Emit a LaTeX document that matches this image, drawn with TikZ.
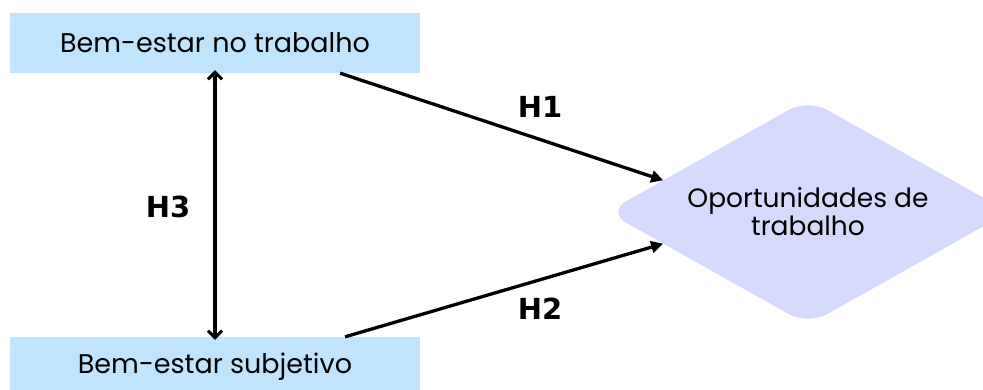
\documentclass[tikz,border=0pt]{standalone}
\usepackage{fontspec}
\setmainfont{Poppins}
\newfontfamily\labelfont{DejaVu Sans}
\usetikzlibrary{arrows.meta,shapes.geometric,calc}
\definecolor{boxblue}{RGB}{192,228,253}
\definecolor{lavender}{RGB}{213,217,252}
\tikzset{
  factor/.style={fill=boxblue, draw=none, minimum width=410pt, minimum height=60pt,
    inner sep=0pt, font=\fontsize{27}{32}\selectfont},
  outcome/.style={diamond, shape aspect=1.78, fill=lavender, draw=none,
    minimum width=402pt, minimum height=226pt, inner sep=0pt, rounded corners=22pt,
    align=center, font=\fontsize{26.5}{28}\selectfont},
  link/.style={line width=3.3pt, -{Triangle[length=12pt,width=12pt]}},
  corr/.style={line width=3.3pt, {Straight Barb[length=7pt,width=14pt,line width=3pt]}-{Straight Barb[length=7pt,width=14pt,line width=3pt]}},
  hyp/.style={font=\labelfont\bfseries\fontsize{29}{34}\selectfont}
}
\begin{document}
\begin{tikzpicture}[x=1pt,y=-1pt]
  \useasboundingbox (0,0) rectangle (983,389);
  \clip (0,0) rectangle (983,389);
  % the two well-being constructs
  \node[factor] (work) at (215,43) {Bem-estar no trabalho};
  \node[factor] (subj) at (215,367) {Bem-estar subjetivo};
  % the outcome
  \node[outcome] (opp) at (808,212) {Oportunidades de\\trabalho};
  % arrow ends on the outcome's left edges
  \coordinate (h1end) at ($(opp.west)!0.28!(opp.north)$);
  \coordinate (h2end) at ($(opp.west)!0.28!(opp.south)$);
  \coordinate (h1start) at ($(work.south west)!0.805!(work.south east)$);
  \coordinate (h2start) at ($(subj.north west)!0.817!(subj.north east)$);
  \draw[link] (h1start) -- (h1end);
  \draw[link] (h2start) -- (h2end);
  \draw[corr] ([yshift=3pt]work.south) -- ([yshift=-3pt]subj.north);
  % hypothesis labels
  \node[hyp] (lh1) at (540,107) {H1};
  \node[hyp] (lh2) at (540,309) {H2};
  \node[hyp] (lh3) at (168,207) {H3};
\end{tikzpicture}
\end{document}
